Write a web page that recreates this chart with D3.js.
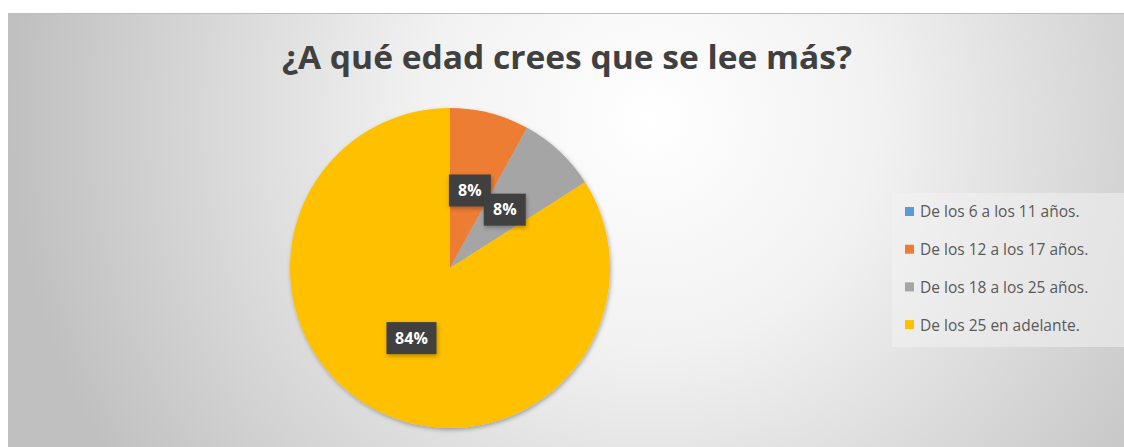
<!DOCTYPE html>
<html lang="es">
<head>
<meta charset="utf-8">
<title>¿A qué edad crees que se lee más?</title>
<script src="https://d3js.org/d3.v7.min.js"></script>
<style>
  html, body { margin: 0; padding: 0; background: #fff; }
  svg { display: block; }
  text { font-family: "Open Sans", "Liberation Sans", sans-serif; }
</style>
</head>
<body>
<svg id="chart"></svg>
<script>
// data
const categories = ["De los 6 a los 11 años.", "De los 12 a los 17 años.", "De los 18 a los 25 años.", "De los 25 en adelante."];
const values = [0, 8, 8, 84];
const colors = ["#5b9bd5", "#ed7d31", "#a5a5a5", "#ffc000"];
const title = "¿A qué edad crees que se lee más?";

const width = 1124, height = 447;
const svg = d3.select("#chart").attr("width", width).attr("height", height);

// background
const defs = svg.append("defs");
const bg = defs.append("radialGradient")
  .attr("id", "bg").attr("gradientUnits", "userSpaceOnUse")
  .attr("cx", 650).attr("cy", 120).attr("r", 640);
bg.append("stop").attr("offset", "0%").attr("stop-color", "#ffffff");
bg.append("stop").attr("offset", "35%").attr("stop-color", "#f2f2f2");
bg.append("stop").attr("offset", "100%").attr("stop-color", "#c0c0c0");

const shadow = defs.append("filter").attr("id", "shadow")
  .attr("x", "-20%").attr("y", "-20%").attr("width", "140%").attr("height", "140%");
shadow.append("feDropShadow").attr("dx", 1).attr("dy", 2).attr("stdDeviation", 2)
  .attr("flood-color", "#000").attr("flood-opacity", 0.3);

svg.append("rect").attr("x", 8).attr("y", 13).attr("width", width - 8).attr("height", height - 13)
  .attr("fill", "url(#bg)");
svg.append("line").attr("x1", 8).attr("x2", width).attr("y1", 13.5).attr("y2", 13.5)
  .attr("stroke", "#bdbdbd").attr("stroke-width", 1);

// title
svg.append("text")
  .attr("x", 567).attr("y", 69)
  .attr("text-anchor", "middle")
  .attr("font-size", 33).attr("font-weight", 700)
  .attr("fill", "#404040")
  .attr("textLength", 570).attr("lengthAdjust", "spacingAndGlyphs")
  .text(title);

// pie
const cx = 450, cy = 268, R = 160;
const pie = d3.pie().sort(null).value(d => d)(values);
const arc = d3.arc().innerRadius(0).outerRadius(R);

const g = svg.append("g").attr("transform", `translate(${cx},${cy})`);
g.append("g").attr("filter", "url(#shadow)")
  .selectAll("path")
  .data(pie)
  .join("path")
  .attr("d", arc)
  .attr("fill", (d, i) => colors[i]);

// labels
const labels = g.selectAll("g.lbl")
  .data(pie.filter(d => d.data > 0))
  .join("g")
  .attr("class", "lbl")
  .attr("transform", d => `translate(${arc.centroid(d)})`);

labels.append("rect")
  .attr("x", d => d.data >= 10 ? -25 : -21)
  .attr("y", -16)
  .attr("width", d => d.data >= 10 ? 50 : 42)
  .attr("height", 32)
  .attr("fill", "#404040")
  .attr("filter", "url(#shadow)");

labels.append("text")
  .attr("text-anchor", "middle")
  .attr("dy", "0.36em")
  .attr("font-size", 16).attr("font-weight", 700)
  .attr("fill", "#ffffff")
  .text(d => d.data + "%");

// legend
svg.append("rect").attr("x", 892).attr("y", 193).attr("width", 232).attr("height", 154)
  .attr("fill", "#f2f2f2").attr("fill-opacity", 0.55);

const legend = svg.append("g").selectAll("g")
  .data(categories)
  .join("g")
  .attr("transform", (d, i) => `translate(905,${212 + i * 37.7})`);

legend.append("rect")
  .attr("x", 0).attr("y", -5).attr("width", 9).attr("height", 9)
  .attr("fill", (d, i) => colors[i]);

legend.append("text")
  .attr("x", 15).attr("dy", "0.35em")
  .attr("font-size", 15.5)
  .attr("fill", "#595959")
  .text(d => d);
</script>
</body>
</html>
